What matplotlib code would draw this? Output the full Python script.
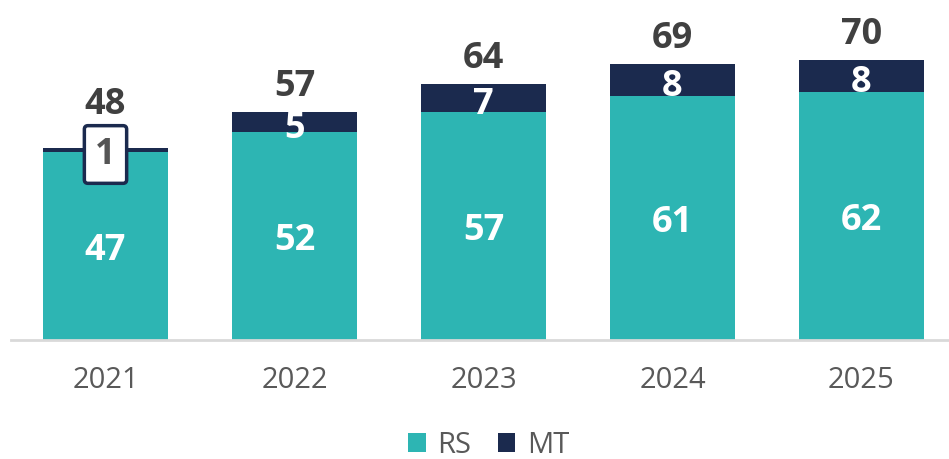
import numpy as np
import matplotlib.pyplot as plt

plt.rcParams['font.family'] = ['Open Sans', 'DejaVu Sans']

years = ['2021', '2022', '2023', '2024', '2025']
rs = [47, 52, 57, 61, 62]
mt = [1, 5, 7, 8, 8]
totals = [48, 57, 64, 69, 70]

teal = '#2db5b3'
navy = '#1b2a4e'
grey = '#404040'

fig = plt.figure(figsize=(9.49, 4.59), dpi=100)
ax = fig.add_axes([11/949, 119/459, 938/949, 340/459])

x = np.arange(len(years))
w = 0.66
ax.bar(x, rs, w, color=teal, label='RS')
ax.bar(x, mt, w, bottom=rs, color=navy, label='MT')

fs = 26
for i in range(len(years)):
    ax.text(x[i], rs[i] / 2, str(rs[i]), ha='center', va='center_baseline',
            color='white', fontsize=fs, fontweight='bold')
    mid = rs[i] + mt[i] / 2
    if mt[i] < 3:
        # too thin for a label inside: boxed label over the segment
        ax.text(x[i], mid, str(mt[i]), ha='center', va='center_baseline',
                color='#555555', fontsize=fs, fontweight='bold',
                bbox=dict(boxstyle='round,pad=0.3,rounding_size=0.1',
                          facecolor='white', edgecolor=navy, linewidth=2.5))
        off = 12
    else:
        ax.text(x[i], mid - 0.6, str(mt[i]), ha='center', va='center_baseline',
                color='white', fontsize=fs, fontweight='bold')
        off = 7.5
    ax.text(x[i], totals[i] + off, str(totals[i]), ha='center', va='center_baseline',
            color=grey, fontsize=fs, fontweight='bold')

ax.set_xlim(-0.5, 4.463)
ax.set_ylim(0, 85)
ax.set_xticks(x)
ax.set_xticklabels(years, fontsize=21, color='#595959')
ax.tick_params(axis='x', length=0, pad=19)
ax.set_yticks([])
for s in ['top', 'right', 'left']:
    ax.spines[s].set_visible(False)
ax.spines['bottom'].set_color('#d9d9d9')
ax.spines['bottom'].set_linewidth(2)

leg = fig.legend(loc='center', bbox_to_anchor=(0.515, 0.03), ncol=2,
                 frameon=False, fontsize=21, handlelength=0.6, handleheight=0.6,
                 handletextpad=0.4, columnspacing=0.9, borderpad=0.1)
for t in leg.get_texts():
    t.set_color('#595959')

fig.savefig('out.png', dpi=100)
